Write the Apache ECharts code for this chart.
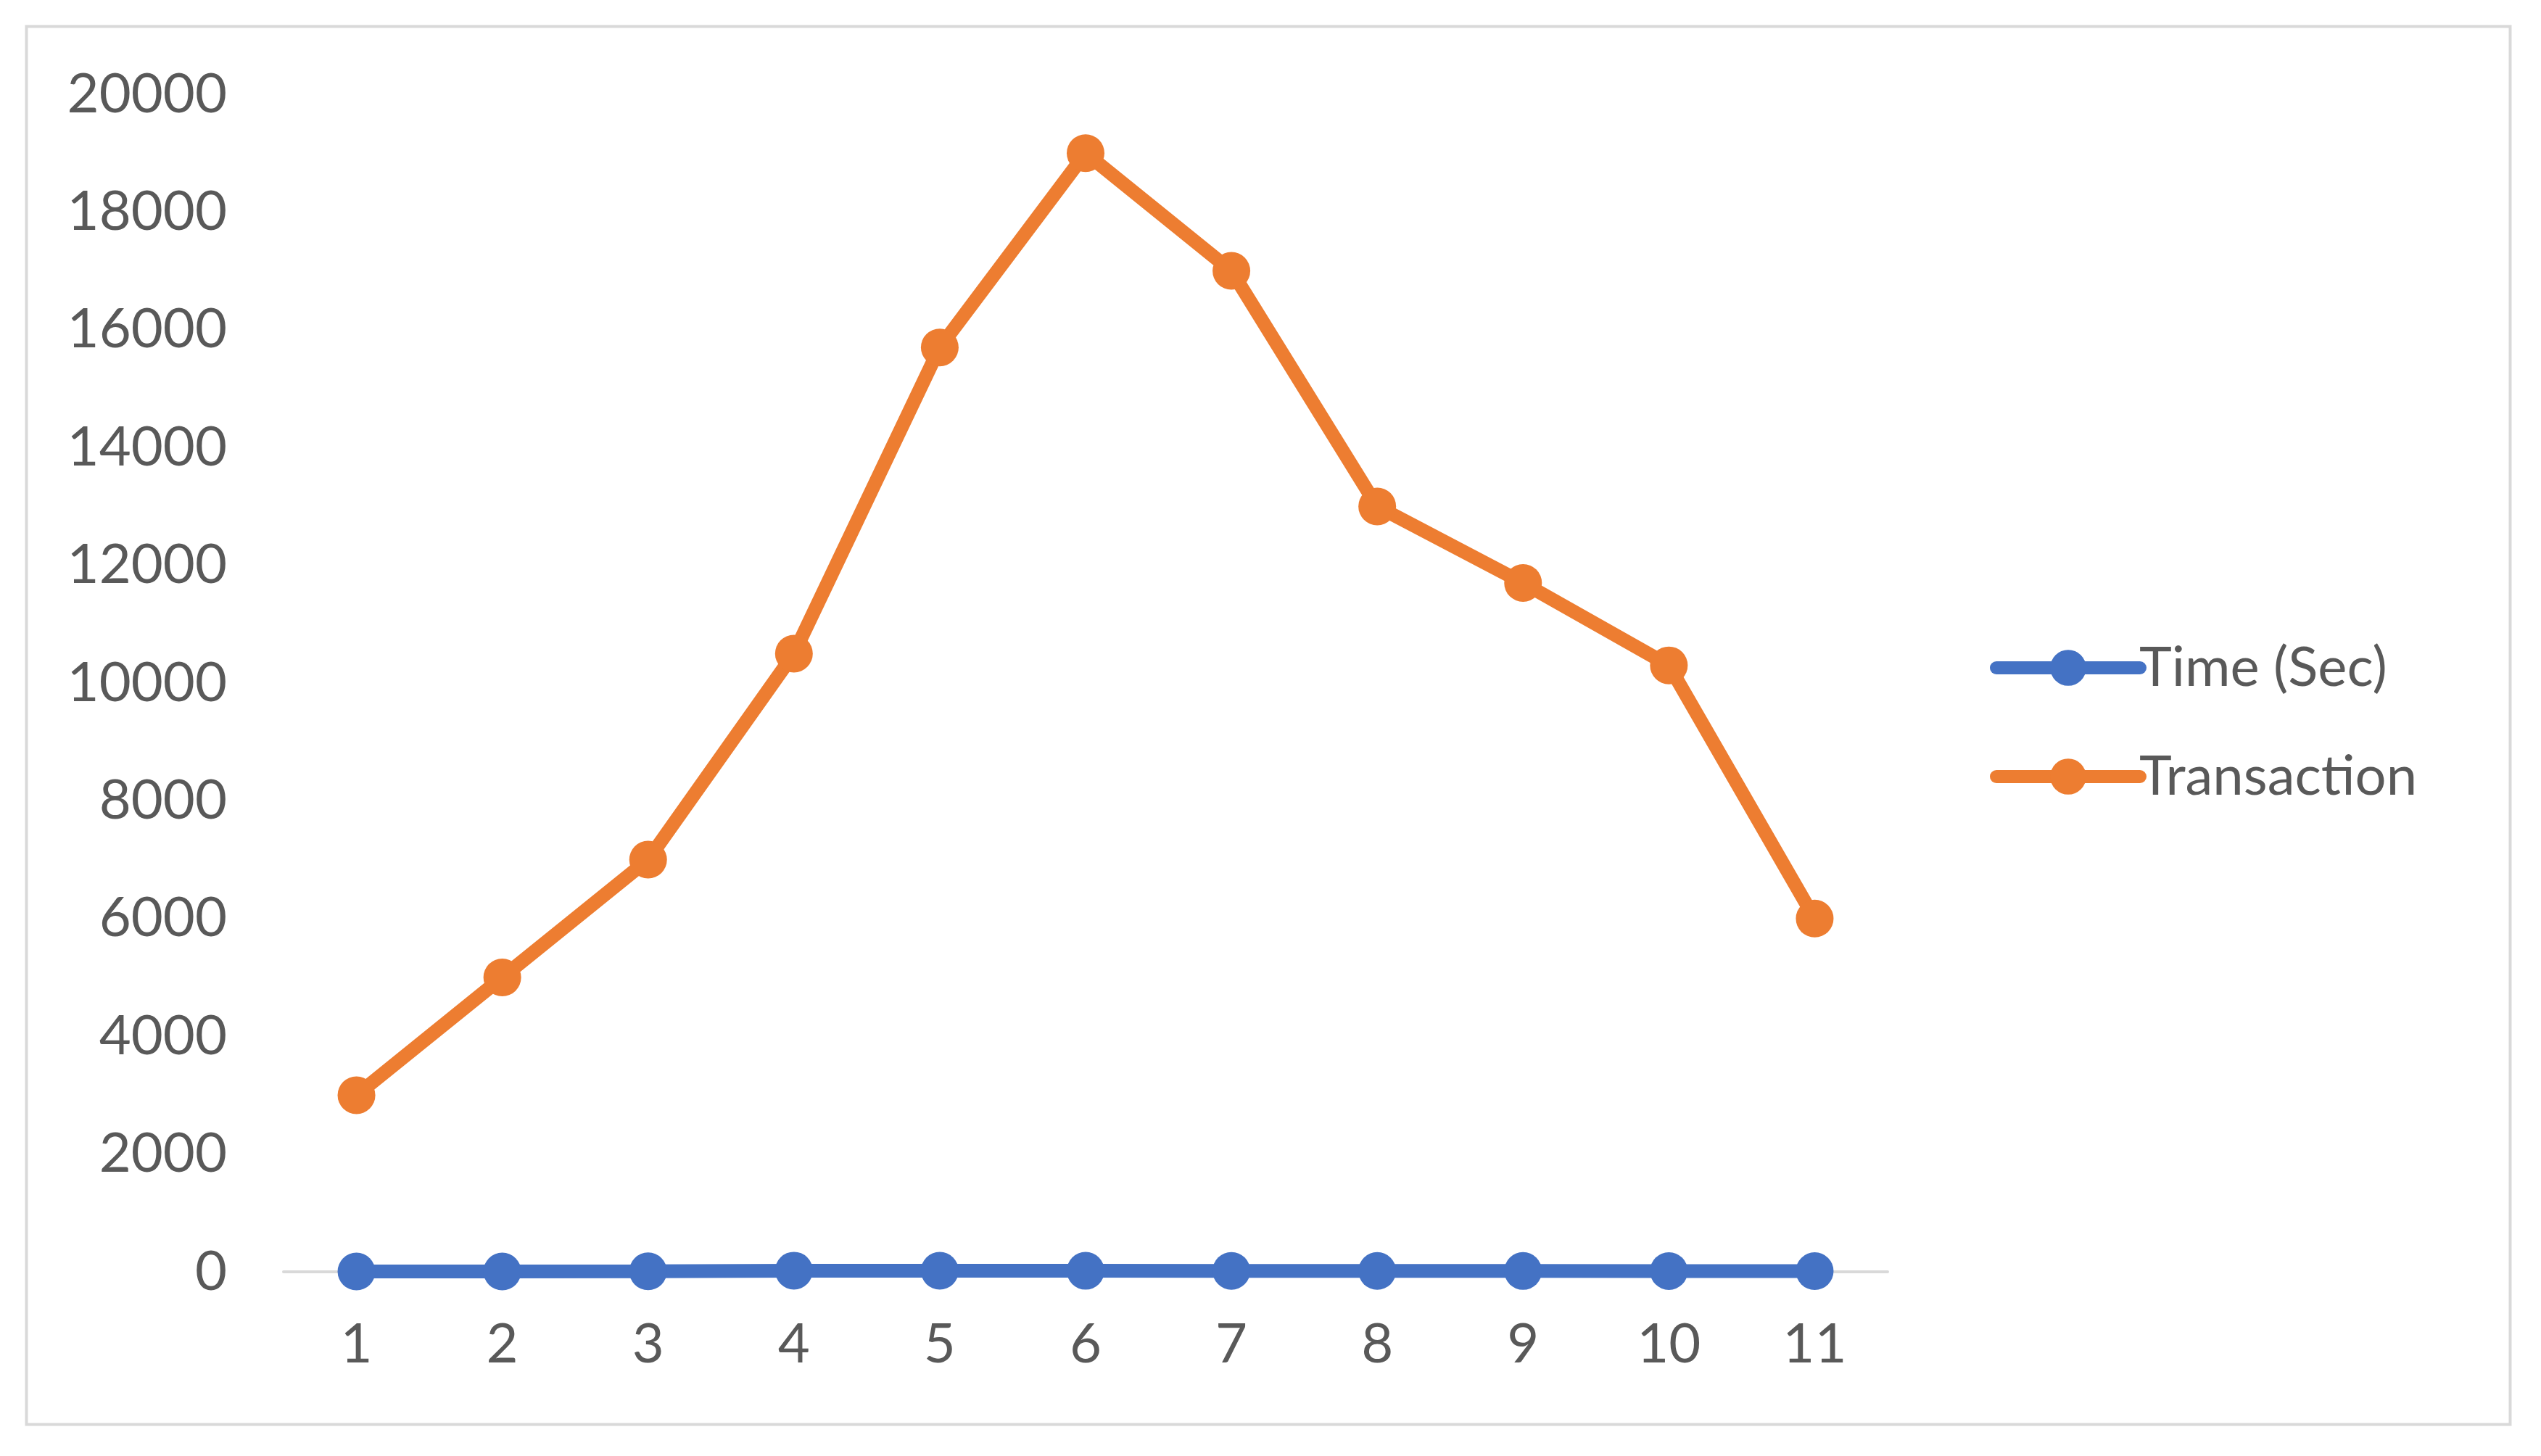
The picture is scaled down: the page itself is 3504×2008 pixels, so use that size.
<!DOCTYPE html>
<html>
<head>
<meta charset="utf-8">
<script src="https://cdn.jsdelivr.net/npm/echarts@6/dist/echarts.min.js"></script>
<style>
html,body{margin:0;padding:0;background:#fff;}
#chart{width:3504px;height:2008px;}
</style>
</head>
<body>
<div id="chart"></div>
<script>
const categories = ['1','2','3','4','5','6','7','8','9','10','11'];
const timeSec = [5, 6, 8, 20, 18, 17, 16, 15, 14, 13, 12];
const transaction = [3000, 5000, 7000, 10500, 15700, 19000, 17000, 13000, 11700, 10300, 6000];
const seriesNames = ['Time (Sec)', 'Transaction'];

const chart = echarts.init(document.getElementById('chart'));
const FONT = 'Lato';
const TXT = '#595959';
chart.setOption({
  backgroundColor: '#fff',
  animation: false,
  graphic: [{
    type: 'rect', left: 34, top: 34,
    shape: {width: 3425, height: 1928},
    style: {fill: 'none', stroke: '#d9d9d9', lineWidth: 4},
    silent: true
  }],
  grid: {left: 391, right: 3504 - 2603, top: 130, bottom: 2008 - 1754},
  legend: {
    orient: 'vertical',
    left: 2739, top: 918 - 40,
    itemWidth: 198, itemHeight: 62, itemGap: 74,
    data: seriesNames,
    lineStyle: {width: 18, cap: 'round'},
    textStyle: {fontFamily: FONT, fontSize: 76, color: TXT, padding: [0,0,0,-6]}
  },
  xAxis: {
    type: 'category',
    data: categories,
    boundaryGap: true,
    axisLine: {lineStyle: {color: '#d9d9d9', width: 4}},
    axisTick: {show: false},
    axisLabel: {fontFamily: FONT, fontSize: 76, color: TXT, margin: 62}
  },
  yAxis: {
    type: 'value',
    min: 0, max: 20000, interval: 2000,
    axisLine: {show: false},
    axisTick: {show: false},
    splitLine: {show: false},
    axisLabel: {fontFamily: FONT, fontSize: 76, color: TXT, margin: 78, formatter: v => String(v)}
  },
  series: [
    {
      name: seriesNames[0], type: 'line', data: timeSec,
      symbol: 'circle', symbolSize: 52,
      lineStyle: {width: 19, color: '#4472c4'},
      itemStyle: {color: '#4472c4'}
    },
    {
      name: seriesNames[1], type: 'line', data: transaction,
      symbol: 'circle', symbolSize: 52,
      lineStyle: {width: 19, color: '#ed7d31'},
      itemStyle: {color: '#ed7d31'}
    }
  ]
});
</script>
</body>
</html>
